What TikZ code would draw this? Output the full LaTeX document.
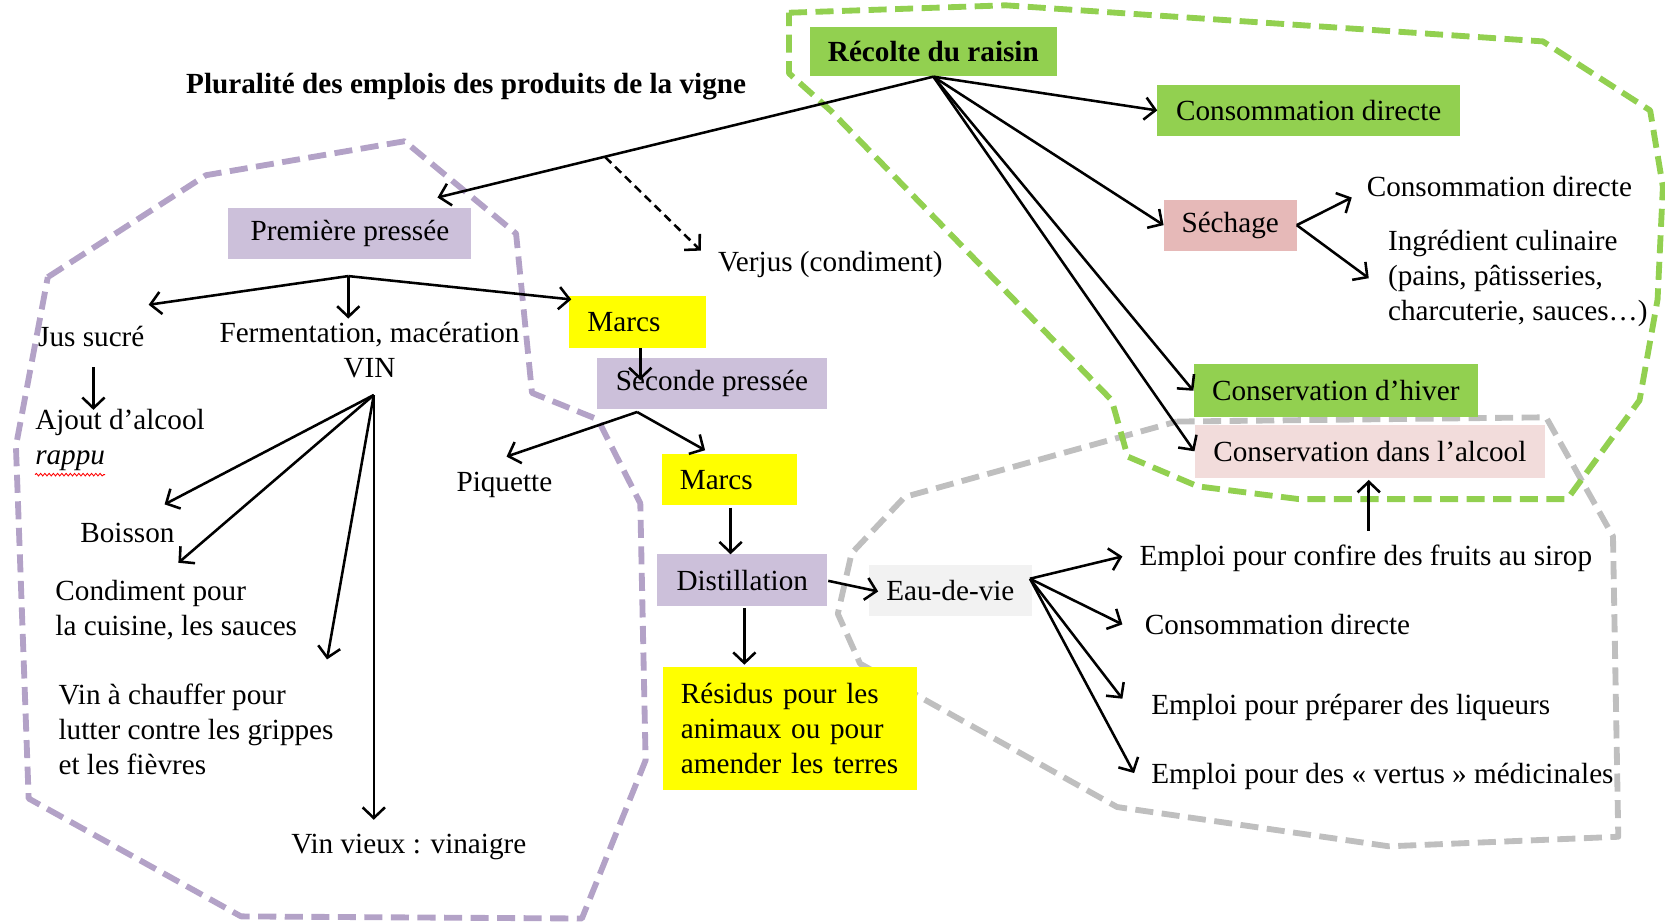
\documentclass[tikz,border=0pt]{standalone}
\usepackage{fontspec}
\setmainfont{Liberation Serif}
\usetikzlibrary{arrows.meta,decorations.pathmorphing}
\definecolor{vgreen}{RGB}{146,208,80}
\definecolor{lav}{RGB}{204,192,218}
\definecolor{lavline}{RGB}{179,162,199}
\definecolor{grayline}{RGB}{191,191,191}
\definecolor{pinkbox}{RGB}{230,185,184}
\definecolor{lpink}{RGB}{242,220,219}
\definecolor{lgray}{RGB}{242,242,242}
\definecolor{yel}{RGB}{255,255,0}
\tikzset{
  txt/.style={font=\fontsize{27.5}{33}\selectfont, inner sep=0pt},
  boldtxt/.style={font=\fontsize{27.5}{33}\selectfont\bfseries, inner sep=0pt},
  box/.style={txt, align=center},
  leftbox/.style={txt, align=left, inner xsep=17pt},
  arr/.style={draw, line width=2.4pt, -{Straight Barb[length=10pt,width=21pt]}},
  darr/.style={arr, dash pattern=on 8pt off 5pt},
  zone/.style={draw, line width=5.5pt, dash pattern=on 17pt off 8pt, line join=round}
}
\begin{document}
\begin{tikzpicture}[x=1pt,y=-1pt]
\useasboundingbox (0,0) rectangle (1568,870);
% zones
\draw[zone, lavline] (45,261) -- (194,165) -- (381,133) -- (486,220) -- (501,370) -- (563,395) -- (603,474) -- (608,716) -- (548,865) -- (227,863) -- (27,752) -- (15,420) -- cycle;
\draw[zone, grayline] (1108,397) -- (1456,393) -- (1519,505) -- (1524,788) -- (1308,797) -- (1052,760) -- (810,625) -- (789,578) -- (802,521) -- (852,468) -- cycle;
\draw[zone, vgreen] (743,12) -- (947,5) -- (1453,39) -- (1554,104) -- (1566,176) -- (1561,282) -- (1544,377) -- (1476,470) -- (1223,470) -- (1128,458) -- (1062,430) -- (1047,377) -- (782,104) -- (743,69) -- cycle;

% nodes
\node[boldtxt] (title) at (439,82) {Pluralité des emplois des produits de la vigne};
\node[boldtxt, fill=vgreen, minimum width=232pt, minimum height=47pt] (rec) at (879,48.5) {Récolte du raisin};
\node[box, fill=vgreen, minimum width=285pt, minimum height=48pt] (cd1) at (1232.5,104) {Consommation directe};
\node[box, fill=pinkbox, minimum width=125pt, minimum height=48pt] (sech) at (1158.5,212) {Séchage};
\node[txt] (cd2) at (1412,176) {Consommation directe};
\node[txt, align=left, anchor=west] (ingr) at (1307,262) {Ingrédient culinaire\\(pains, pâtisseries,\\charcuterie, sauces…)};
\node[box, fill=vgreen, minimum width=268pt, minimum height=50pt] (hiver) at (1258,368) {Conservation d’hiver};
\node[box, fill=lpink, minimum width=330pt, minimum height=50pt] (alc) at (1290,425) {Conservation dans l’alcool};
\node[box, fill=lav, minimum width=229pt, minimum height=48pt] (pp) at (329.5,220) {Première pressée};
\node[txt] (verjus) at (782,249) {Verjus (condiment)};
\node[txt] (jus) at (86,317) {Jus sucré};
\node[txt, align=center] (ferm) at (348,329.5) {Fermentation, macération\\VIN};
\node[leftbox, fill=yel, text width=95pt, minimum height=49pt, anchor=west] (marcsa) at (536,303.5) {Marcs};
\node[box, fill=lav, minimum width=217pt, minimum height=48pt] (sp) at (670.5,361) {Seconde pressée};
\node[txt, align=left, anchor=west] (ajout) at (33,414.5) {Ajout d’alcool\\\textit{rappu}};
\node[txt] (piq) at (475,457) {Piquette};
\node[leftbox, fill=yel, text width=93pt, minimum height=48pt, anchor=west] (marcsb) at (623,452) {Marcs};
\node[txt] (boisson) at (120,502) {Boisson};
\node[txt, align=left, anchor=west] (cond) at (52,574.5) {Condiment pour\\la cuisine, les sauces};
\node[box, fill=lav, minimum width=160pt, minimum height=49pt] (dist) at (699,546.5) {Distillation};
\node[box, fill=lgray, minimum width=154pt, minimum height=48pt] (eau) at (895,556) {Eau-de-vie};
\node[txt, anchor=west] (ea) at (1073,526) {Emploi pour confire des fruits au sirop};
\node[txt, anchor=west] (eb) at (1078,588) {Consommation directe};
\node[txt, anchor=west] (ec) at (1084,666) {Emploi pour préparer des liqueurs};
\node[txt, anchor=west] (ed) at (1084,731) {Emploi pour des « vertus » médicinales};
\node[leftbox, fill=yel, text width=205pt, minimum height=116pt, anchor=west] (res) at (624,686) {Résidus pour les\\animaux ou pour\\amender les terres};
\node[txt, align=left, anchor=west] (vinch) at (55,687) {Vin à chauffer pour\\lutter contre les grippes\\et les fièvres};
\node[txt] (vv) at (385,798) {Vin vieux : vinaigre};

\draw[red, line width=0.8pt, decorate, decoration={snake, amplitude=1.2pt, segment length=4pt}] (33,447) -- (99,447);

% coordinates
\coordinate (toPP) at (412,186);
\coordinate (vsplit) at (570,148);
\coordinate (toVerjus) at (660,236);
\coordinate (toCD2) at (1273,186);
\coordinate (toIngr) at (1289,262);
\coordinate (jpp) at (328,260);
\coordinate (toJus) at (140,287);
\coordinate (toFerm) at (328,300);
\coordinate (toMarcsa) at (538,282);
\coordinate (jusA) at (88,346);
\coordinate (toAjout) at (88,386);
\coordinate (maA) at (603,328);
\coordinate (toSp) at (603,358);
\coordinate (jsp) at (600,388);
\coordinate (toPiq) at (477,430);
\coordinate (toMarcsb) at (664,424);
\coordinate (jvin) at (352,372);
\coordinate (toBoisson) at (155,475);
\coordinate (toCond) at (168,530);
\coordinate (toVinch) at (308,621);
\coordinate (toVV) at (352,772);
\coordinate (mbA) at (688,478);
\coordinate (toDist) at (688,522);
\coordinate (dA) at (701,573);
\coordinate (toRes) at (701,626);
\coordinate (dB) at (780,547);
\coordinate (toEau) at (827,557);
\coordinate (jeau) at (970,545);
\coordinate (toEa) at (1057,524);
\coordinate (toEb) at (1057,588);
\coordinate (toEc) at (1057,658);
\coordinate (toEd) at (1068,728);
\coordinate (eaUp) at (1289,500);
\coordinate (toAlc) at (1289,452);

% arrows
\draw[arr] (rec.south) -- (toPP);
\draw[darr] (vsplit) -- (toVerjus);
\draw[arr] (rec.south) -- (cd1.west);
\draw[arr] (rec.south) -- (sech.west);
\draw[arr] (rec.south) -- (hiver.west);
\draw[arr] (rec.south) -- (alc.west);
\draw[arr] (sech.east) -- (toCD2);
\draw[arr] (sech.east) -- (toIngr);
\draw[arr] (jpp) -- (toJus);
\draw[arr] (jpp) -- (toFerm);
\draw[arr] (jpp) -- (toMarcsa);
\draw[arr] (jusA) -- (toAjout);
\draw[arr] (maA) -- (toSp);
\draw[arr] (jsp) -- (toPiq);
\draw[arr] (jsp) -- (toMarcsb);
\draw[arr] (jvin) -- (toBoisson);
\draw[arr] (jvin) -- (toCond);
\draw[arr] (jvin) -- (toVinch);
\draw[arr] (jvin) -- (toVV);
\draw[arr] (mbA) -- (toDist);
\draw[arr] (dA) -- (toRes);
\draw[arr] (dB) -- (toEau);
\draw[arr] (jeau) -- (toEa);
\draw[arr] (jeau) -- (toEb);
\draw[arr] (jeau) -- (toEc);
\draw[arr] (jeau) -- (toEd);
\draw[arr] (eaUp) -- (toAlc);
\end{tikzpicture}
\end{document}
